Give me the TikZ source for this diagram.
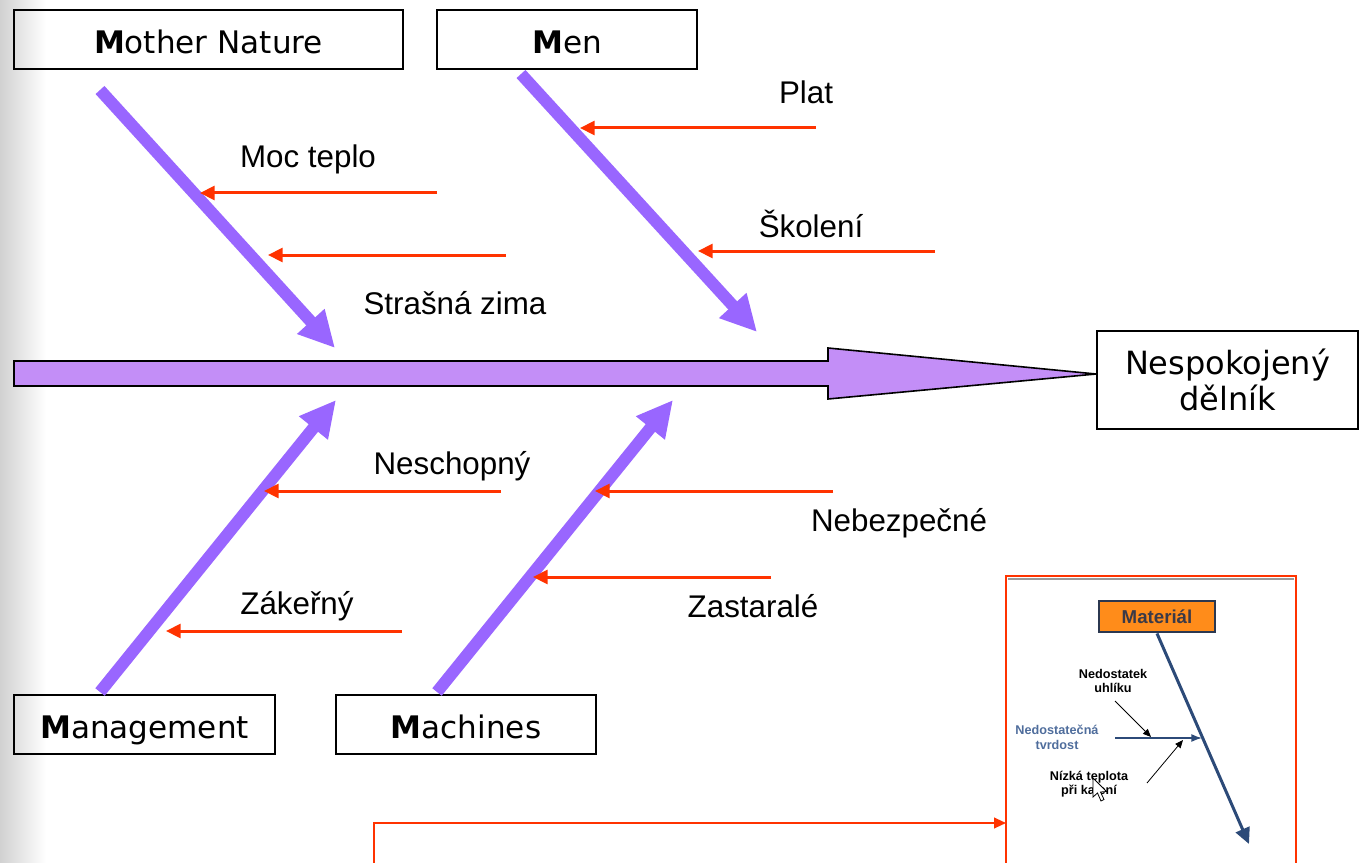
\documentclass[tikz,border=0pt]{standalone}
\usepackage{fontspec}
\setmainfont{Liberation Sans}
\newfontfamily\verd{DejaVu Sans}
\usetikzlibrary{arrows.meta}
\definecolor{bonec}{HTML}{9966FF}
\definecolor{spinec}{HTML}{C38EF7}
\definecolor{redc}{HTML}{FF3300}
\definecolor{navyc}{HTML}{2C4A78}
\definecolor{orangec}{HTML}{FF8C1A}
\definecolor{bluetxt}{HTML}{4F6D9C}
\definecolor{boxedge}{HTML}{2B3850}
\definecolor{mattxt}{HTML}{3A3A48}
\begin{document}
\begin{tikzpicture}[x=0.75pt,y=-0.75pt,
  catbox/.style={draw=black, line width=1.4pt, inner sep=0pt, minimum height=44.25pt,
    text height=25pt, text depth=3.5pt,
    font=\verd\fontsize{23.3}{28}\selectfont},
  lbl/.style={inner sep=0pt, font=\fontsize{23.5}{28}\selectfont},
  boneline/.style={bonec, line width=9pt, -{Triangle[length=27pt,width=26pt]}},
  redarrow/.style={redc, line width=2.25pt, -{Triangle[length=11pt,width=10.5pt]}},
  smalltxt/.style={inner sep=0pt, align=center, font=\bfseries\fontsize{9.5}{11}\selectfont},
  thinarrow/.style={black, line width=0.6pt, -{Triangle[length=6pt,width=5pt]}}
]
\useasboundingbox (0,0) rectangle (1363,863);
\shade[left color=black!18, right color=white] (0,0) rectangle (46,863);

% category boxes
\node[catbox, minimum width=291.75pt] (mn) at (208.5,39.5) {\textbf{M}other Nature};
\node[catbox, minimum width=195pt] (men) at (567,39.5) {\textbf{M}en};
\node[catbox, minimum width=195.75pt] (mgmt) at (144.5,724.5) {\textbf{M}anagement};
\node[catbox, minimum width=195pt] (mach) at (466,724.5) {\textbf{M}achines};
\node[draw=black, fill=white, line width=1.4pt, minimum width=195.75pt, minimum height=73.5pt,
  inner sep=0pt, align=center, font=\verd\fontsize{24}{27}\selectfont] (nsp) at (1227.5,380)
  {Nespokojený\\dělník};

% spine
\coordinate (tip) at (nsp.west |- 0,374);
\draw[black, line width=1.2pt, fill=spinec]
  (14,361) -- (828,361) -- (828,348) -- (tip) -- (828,399) -- (828,386) -- (14,386) -- cycle;

% bones
\coordinate (mnS) at (100,90);   \coordinate (mnE) at (335,348);
\coordinate (menS) at (521,74);  \coordinate (menE) at (757,332);
\coordinate (mgS) at (100,692);  \coordinate (mgE) at (336,400);
\coordinate (maS) at (437,692);  \coordinate (maE) at (673,400);
\draw[boneline] (mnS) -- (mnE);
\draw[boneline] (menS) -- (menE);
\draw[boneline] (mgS) -- (mgE);
\draw[boneline] (maS) -- (maE);

% causes
\coordinate (r1s) at (816,128); \coordinate (r1e) at (580,128);
\coordinate (r2s) at (437,193); \coordinate (r2e) at (200,193);
\coordinate (r3s) at (506,255); \coordinate (r3e) at (268,255);
\coordinate (r4s) at (935,251); \coordinate (r4e) at (698,251);
\coordinate (r5s) at (501,491); \coordinate (r5e) at (264,491);
\coordinate (r6s) at (833,491); \coordinate (r6e) at (595,491);
\coordinate (r7s) at (771,577); \coordinate (r7e) at (533,577);
\coordinate (r8s) at (402,631); \coordinate (r8e) at (166,631);
\foreach \i in {1,...,8} \draw[redarrow] (r\i s) -- (r\i e);

\node[lbl] (l1) at (806,92) {Plat};
\node[lbl] (l2) at (308,159) {Moc teplo};
\node[lbl] (l3) at (455,303) {Strašná zima};
\node[lbl] (l4) at (811,224) {Školení};
\node[lbl] (l5) at (452,466) {Neschopný};
\node[lbl] (l6) at (899,523) {Nebezpečné};
\node[lbl] (l7) at (753,606) {Zastaralé};
\node[lbl] (l8) at (297,606) {Zákeřný};

% inset screenshot
\draw[redc, line width=1.5pt] (1006,866) -- (1006,576) -- (1296,576) -- (1296,866);
\draw[black!40, line width=1.5pt] (1008,579) -- (1294,579);
\coordinate (inW) at (1006,823);
\coordinate (cS) at (374,866);
\draw[redc, line width=1.5pt, -{Triangle[length=9pt,width=8pt]}] (cS) |- (inW);

\node[fill=orangec, draw=boxedge, line width=2.2pt, minimum width=87pt, minimum height=23.25pt,
  inner sep=0pt, text=mattxt, font=\bfseries\fontsize{14}{16}\selectfont] (mat) at (1157,616.5) {Materiál};
\coordinate (matE) at (1249,844);
\draw[navyc, line width=2.25pt, -{Triangle[length=12pt,width=11pt]}] (mat.south) -- (matE);
\coordinate (tvS) at (1115,738); \coordinate (tvE) at (1202,738);
\draw[navyc, line width=1.1pt, -{Latex[length=8pt,width=6pt]}] (tvS) -- (tvE);
\node[smalltxt, text=bluetxt] (tv) at (1057,737) {Nedostatečná\\tvrdost};
\node[smalltxt] (uh) at (1113,681) {Nedostatek\\uhlíku};
\node[smalltxt] (nt) at (1089,784) {Nízká teplota\\při kalení};
\coordinate (a1s) at (1115,701); \coordinate (a1e) at (1151,737);
\coordinate (a2s) at (1147,783); \coordinate (a2e) at (1183,740);
\draw[thinarrow] (a1s) -- (a1e);
\draw[thinarrow] (a2s) -- (a2e);
% mouse cursor
\draw[black, fill=white, line width=0.6pt] (1093,778) -- (1093,797) -- (1097.5,793) -- (1101,801)
  -- (1104,799.5) -- (1100.5,792) -- (1106.5,791.5) -- cycle;
\end{tikzpicture}
\end{document}
